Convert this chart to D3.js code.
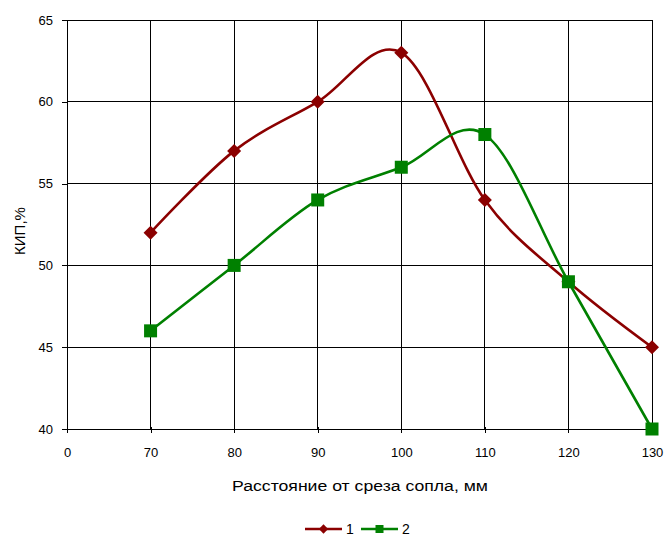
<!DOCTYPE html>
<html><head><meta charset="utf-8">
<script src="https://cdn.jsdelivr.net/npm/d3@7"></script>
<style>body{margin:0;background:#fff}svg{display:block;font-family:"Liberation Sans",Arial,sans-serif}</style>
</head><body>
<svg id="c" width="664" height="536"></svg>
<script>
const xValues = [70, 80, 90, 100, 110, 120, 130];
const series1 = [52, 57, 60, 63, 54, 49, 45];
const series2 = [46, 50, 54, 56, 58, 49, 40];
const xTickValues = [60, 70, 80, 90, 100, 110, 120, 130];
const xTickLabels = ["0", "70", "80", "90", "100", "110", "120", "130"];
const yTicks = [40, 45, 50, 55, 60, 65];
const seriesNames = ["1", "2"];
const colors = ["#8B0000", "#008000"];

const svg = d3.select("#c");
const m = {l: 67, r: 652, t: 20, b: 429};
const x = d3.scaleLinear().domain([60, 130]).range([m.l, m.r]);
const y = d3.scaleLinear().domain([40, 65]).range([m.b, m.t]);
const FF = "Liberation Sans, Arial, sans-serif";

// grid
svg.append("g").selectAll("line").data(xTickValues).join("line")
  .attr("x1", d => x(d)).attr("x2", d => x(d)).attr("y1", m.t).attr("y2", m.b)
  .attr("stroke", "#000").attr("stroke-width", 1).attr("shape-rendering", "crispEdges");
svg.append("g").selectAll("line").data(yTicks).join("line")
  .attr("x1", m.l).attr("x2", m.r).attr("y1", d => y(d)).attr("y2", d => y(d))
  .attr("stroke", "#000").attr("stroke-width", 1).attr("shape-rendering", "crispEdges");

// axes
const xAxis = d3.axisBottom(x).tickValues(xTickValues).tickSize(4)
  .tickFormat((d, i) => xTickLabels[i]);
const gx = svg.append("g").attr("transform", `translate(0,${m.b})`).call(xAxis);
gx.select(".domain").remove();
gx.selectAll("line").attr("stroke", "#000").attr("y1", -2).attr("y2", 4).attr("shape-rendering", "crispEdges");
gx.selectAll("text").attr("font-size", 13).attr("fill", "#000").attr("font-family", FF)
  .attr("y", 28).attr("dy", 0);

const yAxis = d3.axisLeft(y).tickValues(yTicks).tickSize(5).tickPadding(9);
const gy = svg.append("g").attr("transform", `translate(${m.l},0)`).call(yAxis);
gy.select(".domain").remove();
gy.selectAll("line").attr("stroke", "#000").attr("shape-rendering", "crispEdges");
gy.selectAll("text").attr("font-size", 13).attr("fill", "#000").attr("font-family", FF);

// titles
svg.append("text").attr("x", (m.l + m.r) / 2 + 0.5).attr("y", 491).attr("text-anchor", "middle")
  .attr("font-size", 15.5).attr("textLength", 256).attr("lengthAdjust", "spacingAndGlyphs")
  .text("Расстояние от среза сопла, мм");
svg.append("text").attr("transform", `translate(25,231) rotate(-90)`)
  .attr("text-anchor", "middle").attr("font-size", 15).text("КИП,%");

// lines
const line = d3.line().x((d, i) => x(xValues[i])).y(d => y(d)).curve(d3.curveCardinal.tension(0));
[series1, series2].forEach((s, k) => {
  svg.append("path").attr("d", line(s)).attr("fill", "none").attr("stroke", colors[k]).attr("stroke-width", 2.6);
});
// markers
const diamond = d3.symbol().type(d3.symbolDiamond2).size(125);
svg.append("g").selectAll("path").data(series1).join("path")
  .attr("d", diamond).attr("transform", (d, i) => `translate(${x(xValues[i])},${y(d)})`).attr("fill", colors[0]);
svg.append("g").selectAll("rect").data(series2).join("rect")
  .attr("x", (d, i) => x(xValues[i]) - 6.5).attr("y", d => y(d) - 6.5).attr("width", 13).attr("height", 13)
  .attr("fill", colors[1]);

// legend
const lg = svg.append("g").attr("transform", "translate(305,529)");
seriesNames.forEach((n, k) => {
  const g = lg.append("g").attr("transform", `translate(${k * 56},0)`);
  g.append("line").attr("x1", 0).attr("x2", 37).attr("y1", 0).attr("y2", 0).attr("stroke", colors[k]).attr("stroke-width", 2.6);
  if (k === 0) g.append("path").attr("d", d3.symbol().type(d3.symbolDiamond2).size(55)).attr("transform", "translate(18.5,0)").attr("fill", colors[k]);
  else g.append("rect").attr("x", 14.5).attr("y", -4).attr("width", 8).attr("height", 8).attr("fill", colors[k]);
  g.append("text").attr("x", 41).attr("y", 5).attr("font-size", 14).text(n);
});
</script>
</body></html>
